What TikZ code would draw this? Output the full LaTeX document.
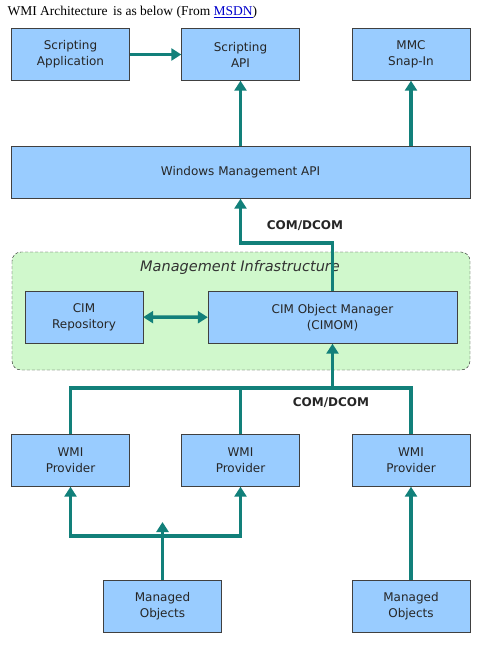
\documentclass[tikz,border=0pt]{standalone}
\usepackage{fontspec}
\setmainfont{DejaVu Sans}
\newfontfamily\titlefont{Liberation Serif}
\usepackage{tikz}
\usetikzlibrary{positioning}
\usetikzlibrary{arrows.meta}
\definecolor{boxblue}{RGB}{153,204,255}
\definecolor{infragreen}{RGB}{208,248,204}
\definecolor{pipeteal}{RGB}{18,128,122}
\definecolor{linkblue}{RGB}{0,0,204}
\tikzset{
    mynode/.style = {rectangle, thin, draw=black!75, align=center, fill=boxblue, minimum width=118pt, minimum height=52pt, font=\fontsize{12}{16}\selectfont, text=black!85},
    mynodew/.style = {mynode, minimum width=459pt},
    mynodem/.style = {mynode, minimum width=249pt},
    infra/.style = {draw=black!85, dash pattern=on 3pt off 2pt, thin, rounded corners=9pt, fill=infragreen},
    comlabel/.style = {font=\fontsize{12}{14}\selectfont\bfseries, text=black!85},
    edgen/.style = {-, line width=3.5pt, pipeteal},
    edgea/.style = {-{Triangle[width=12pt,length=10pt]}, line width=3.5pt, pipeteal},
    edged/.style = {{Triangle[width=12pt,length=10pt]}-{Triangle[width=12pt,length=10pt]}, line width=3.5pt, pipeteal}
}
\begin{document}
\begin{tikzpicture}[x=1pt,y=-1pt]
\path[use as bounding box, fill=white] (0,0) rectangle (483,651);
\node[anchor=west, font=\titlefont\fontsize{13.5}{15}\selectfont] at (4,12) (title) {WMI Architecture\, is as below (From \textcolor{linkblue}{\underline{MSDN}})};
%
\draw[infra] (12,252) rectangle (470,370);
\node[font=\fontsize{14.5}{16}\selectfont\itshape, text=black!80] at (240,267) (mi) {Management Infrastructure};
%
\node[mynode] at (70.5,54.5) (sa) {Scripting\\Application};
\node[mynode] at (240.5,54.5) (api) {Scripting\\API};
\node[mynode] at (411,54.5) (mmc) {MMC\\Snap-In};
\node[mynodew] at (240.5,172.5) (wmapi) {Windows Management API};
\node[mynode] at (84,317) (rep) {CIM\\Repository};
\node[mynodem] at (332.5,317.5) (cimom) {CIM Object Manager\\(CIMOM)};
\node[mynode] at (70.5,460.5) (wp1) {WMI\\Provider};
\node[mynode] at (240.5,460.5) (wp2) {WMI\\Provider};
\node[mynode] at (411,460.5) (wp3) {WMI\\Provider};
\node[mynode] at (162.5,606) (mo1) {Managed\\Objects};
\node[mynode] at (411,606) (mo2) {Managed\\Objects};
%
\node[comlabel] at (305,226) (com1) {COM/DCOM};
\node[comlabel] at (331,403) (com2) {COM/DCOM};
%
\coordinate (up) at (240.5,243);
\coordinate (bus) at (332.5,388);
\coordinate (split) at (162.5,536);
%
\draw[edgea] (sa) -- (api);
\draw[edgea] (wmapi.north -| api) -- (api.south);
\draw[edgea] (wmapi.north -| mmc) -- (mmc.south);
\draw[edgea] (cimom.north) |- (up) -- (wmapi.south -| up);
\draw[edged] (rep) -- (cimom);
\draw[edgen] (wp1.north) |- (bus) -| (wp3.north);
\draw[edgen] (wp2.north) -- (wp2.north |- bus);
\draw[edgea] (bus) -- (cimom.south);
\draw[edgea] (split) -| (wp1.south);
\draw[edgea] (split) -| (wp2.south);
\draw[edgea, shorten >=-14pt] (mo1.north) -- (split);
\draw[edgea] (mo2.north) -- (wp3.south);

\end{tikzpicture}
\end{document}
